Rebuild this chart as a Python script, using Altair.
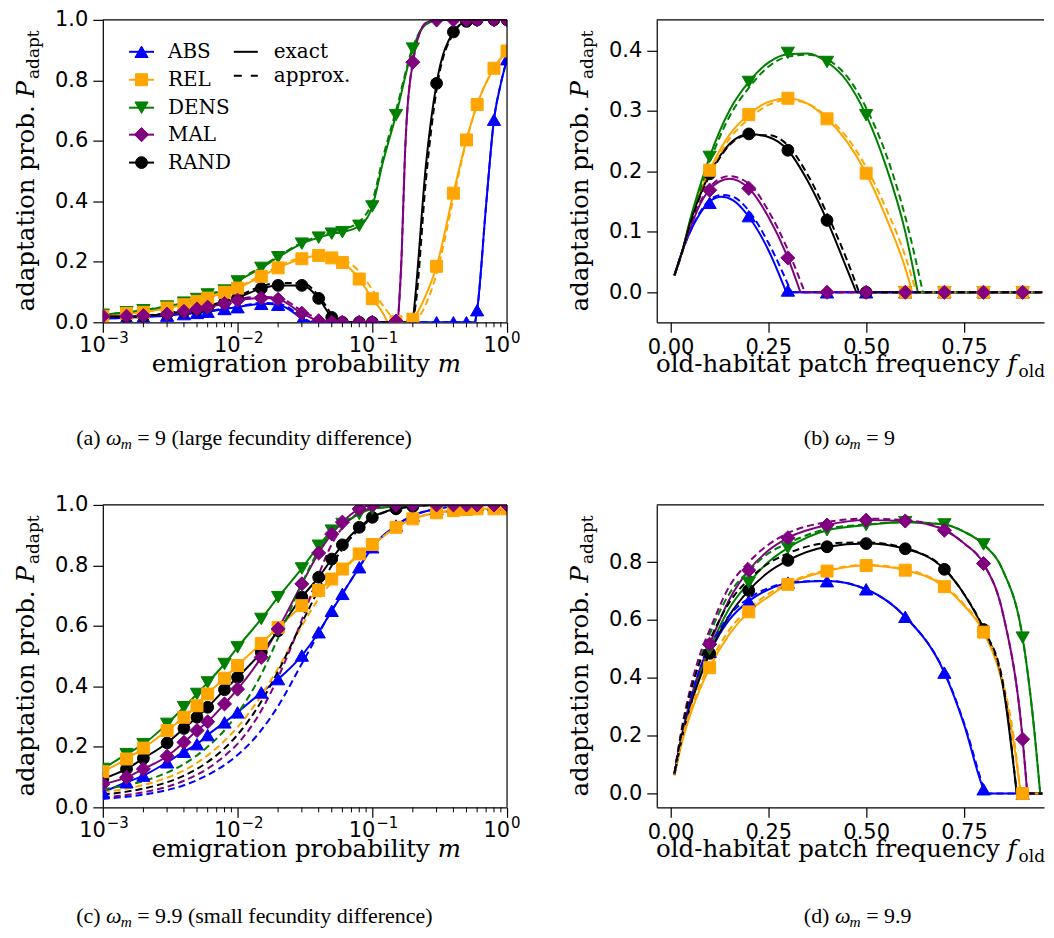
import altair as alt
import pandas as pd

NAMES = ["ABS", "REL", "DENS", "MAL", "RAND"]
COLORS = ["#0000ff", "#ffa500", "#008000", "#800080", "#000000"]
SHAPES = ["triangle-up", "square", "triangle-down", "diamond", "circle"]
SIZES = [175, 144, 175, 200, 140]
POINT_ORDER = ["ABS", "RAND", "DENS", "REL", "MAL"]

M_SIM = [0.001, 0.0015, 0.002, 0.003, 0.004, 0.005, 0.006, 0.008, 0.01, 0.015, 0.02, 0.03,
         0.04, 0.05, 0.06, 0.08, 0.1, 0.15, 0.2, 0.3, 0.4, 0.5, 0.6, 0.8, 1.0]
F_SIM = [0.1, 0.2, 0.3, 0.4, 0.5, 0.6, 0.7, 0.8, 0.9]
M_TICKS = [0.001, 0.01, 0.1, 1.0]
M_TICK_EXP = ["−3", "−2", "−1", "0"]
M_MINOR = [0.002, 0.003, 0.004, 0.005, 0.006, 0.007, 0.008, 0.009,
           0.02, 0.03, 0.04, 0.05, 0.06, 0.07, 0.08, 0.09,
           0.2, 0.3, 0.4, 0.5, 0.6, 0.7, 0.8, 0.9]

# ---------------- panel (a): omega_m = 9, vs m ----------------
A_SIM_ABS = [0.012, 0.015, 0.018, 0.022, 0.027, 0.031, 0.035, 0.044, 0.050, 0.061, 0.058, 0.008, 0.0,
             0.0, 0.0, 0.0, 0.0, 0.0, 0.0, 0.0, 0.0, 0.0, 0.04, 0.67, 0.87]
A_SIM_REL = [0.020, 0.029, 0.033, 0.047, 0.058, 0.069, 0.080, 0.099, 0.113, 0.152, 0.180, 0.210, 0.221,
             0.213, 0.198, 0.143, 0.078, 0.002, 0.010, 0.185, 0.427, 0.603, 0.720, 0.840, 0.897]
A_SIM_DENS = [0.025, 0.033, 0.040, 0.052, 0.065, 0.077, 0.092, 0.105, 0.135, 0.180, 0.215, 0.260, 0.280,
              0.293, 0.298, 0.319, 0.383, 0.685, 0.905, 0.995, 1.0, 1.0, 1.0, 1.0, 1.0]
A_SIM_MAL = [0.020, 0.020, 0.022, 0.027, 0.036, 0.044, 0.050, 0.062, 0.073, 0.080, 0.076, 0.030, 0.005,
             0.0, 0.0, 0.0, 0.0, 0.004, 0.860, 1.0, 1.0, 1.0, 1.0, 1.0, 1.0]
A_SIM_RAND = [0.018, 0.018, 0.020, 0.028, 0.036, 0.043, 0.050, 0.065, 0.080, 0.112, 0.122, 0.122, 0.079,
              0.016, 0.0, 0.0, 0.0, 0.0, 0.0, 0.790, 0.960, 0.995, 1.0, 1.0, 1.0]

A_ABS_X = [0.001, 0.0015, 0.002, 0.003, 0.004, 0.005, 0.006, 0.008, 0.01, 0.015, 0.02, 0.025, 0.03,
           0.035, 0.1, 0.58, 0.6, 0.7, 0.8, 0.9, 1.0]
A_ABS_EX = [0.012, 0.015, 0.018, 0.022, 0.027, 0.031, 0.035, 0.044, 0.050, 0.061, 0.058, 0.038, 0.012,
            0.0, 0.0, 0.0, 0.04, 0.39, 0.67, 0.79, 0.87]
A_ABS_AP = [0.012, 0.015, 0.018, 0.023, 0.028, 0.032, 0.036, 0.046, 0.052, 0.064, 0.062, 0.043, 0.018,
            0.0, 0.0, 0.0, 0.04, 0.39, 0.67, 0.79, 0.87]
A_REL_X = [0.001, 0.0015, 0.002, 0.003, 0.004, 0.005, 0.006, 0.008, 0.01, 0.015, 0.02, 0.03, 0.04, 0.05,
           0.06, 0.08, 0.1, 0.12, 0.13, 0.19, 0.2, 0.25, 0.3, 0.4, 0.5, 0.6, 0.8, 1.0]
A_REL_EX = [0.020, 0.029, 0.033, 0.047, 0.058, 0.069, 0.080, 0.099, 0.113, 0.152, 0.180, 0.210, 0.221,
            0.213, 0.198, 0.143, 0.078, 0.030, 0.0, 0.0, 0.010, 0.090, 0.185, 0.427, 0.603, 0.720, 0.840, 0.897]
A_REL_AX = [0.001, 0.002, 0.003, 0.005, 0.008, 0.01, 0.015, 0.02, 0.03, 0.04, 0.05, 0.06, 0.08, 0.1,
            0.12, 0.14, 0.16, 0.2, 0.21, 0.25, 0.3, 0.4, 0.5, 0.6, 0.8, 1.0]
A_REL_AP = [0.020, 0.034, 0.048, 0.071, 0.101, 0.116, 0.156, 0.185, 0.215, 0.227, 0.222, 0.210, 0.168,
            0.108, 0.055, 0.018, 0.0, 0.0, 0.005, 0.060, 0.160, 0.410, 0.600, 0.720, 0.840, 0.897]
A_DENS_X = [0.001, 0.0015, 0.002, 0.003, 0.004, 0.005, 0.006, 0.008, 0.01, 0.015, 0.02, 0.03, 0.04,
            0.05, 0.06, 0.08, 0.1, 0.12, 0.15, 0.2, 0.25, 0.3, 0.4, 1.0]
A_DENS_EX = [0.025, 0.033, 0.040, 0.052, 0.065, 0.077, 0.092, 0.105, 0.135, 0.180, 0.215, 0.260, 0.280,
             0.293, 0.298, 0.319, 0.383, 0.530, 0.685, 0.905, 0.985, 0.998, 1.0, 1.0]
A_DENS_AP = [0.025, 0.033, 0.041, 0.053, 0.066, 0.079, 0.093, 0.108, 0.138, 0.183, 0.218, 0.263, 0.285,
             0.298, 0.307, 0.333, 0.400, 0.545, 0.700, 0.910, 0.987, 0.998, 1.0, 1.0]
A_MAL_X = [0.001, 0.0015, 0.002, 0.003, 0.004, 0.005, 0.006, 0.008, 0.01, 0.015, 0.02, 0.03, 0.04,
           0.045, 0.155, 0.165, 0.175, 0.2, 0.25, 0.3, 1.0]
A_MAL_EX = [0.020, 0.020, 0.022, 0.027, 0.036, 0.044, 0.050, 0.062, 0.073, 0.080, 0.076, 0.030, 0.005,
            0.0, 0.0, 0.22, 0.56, 0.86, 0.99, 1.0, 1.0]
A_MAL_AP = [0.020, 0.020, 0.023, 0.028, 0.037, 0.045, 0.052, 0.064, 0.076, 0.084, 0.082, 0.038, 0.010,
            0.0, 0.0, 0.22, 0.56, 0.86, 0.99, 1.0, 1.0]
A_RAND_X = [0.001, 0.0015, 0.002, 0.003, 0.004, 0.005, 0.006, 0.008, 0.01, 0.015, 0.02, 0.03, 0.04,
            0.05, 0.055, 0.2, 0.21, 0.25, 0.3, 0.4, 0.5, 0.6, 1.0]
A_RAND_EX = [0.018, 0.018, 0.020, 0.028, 0.036, 0.043, 0.050, 0.065, 0.080, 0.112, 0.122, 0.122, 0.079,
             0.016, 0.0, 0.0, 0.10, 0.52, 0.79, 0.96, 0.995, 1.0, 1.0]
A_RAND_AP = [0.018, 0.019, 0.021, 0.030, 0.038, 0.046, 0.054, 0.070, 0.086, 0.119, 0.130, 0.130, 0.088,
             0.025, 0.0, 0.0, 0.06, 0.47, 0.77, 0.955, 0.995, 1.0, 1.0]

# ---------------- panel (b): omega_m = 9, vs f_old ----------------
B_SIM_ABS = [0.148, 0.126, 0.003, 0.0, 0.0, 0.0, 0.0, 0.0, 0.0]
B_SIM_REL = [0.202, 0.294, 0.321, 0.287, 0.197, 0.0, 0.0, 0.0, 0.0]
B_SIM_DENS = [0.224, 0.348, 0.396, 0.381, 0.293, 0.0, 0.0, 0.0, 0.0]
B_SIM_MAL = [0.169, 0.172, 0.057, 0.0, 0.0, 0.0, 0.0, 0.0, 0.0]
B_SIM_RAND = [0.196, 0.262, 0.235, 0.119, 0.0, 0.0, 0.0, 0.0, 0.0]

B_ABS_X = [0.01, 0.03, 0.05, 0.075, 0.1, 0.13, 0.16, 0.2, 0.25, 0.296, 0.95]
B_ABS_EX = [0.028, 0.068, 0.1, 0.13, 0.15, 0.158, 0.152, 0.125, 0.07, 0.0, 0.0]
B_ABS_AX = [0.01, 0.03, 0.05, 0.075, 0.1, 0.13, 0.16, 0.2, 0.25, 0.309, 0.95]
B_ABS_AP = [0.028, 0.068, 0.1, 0.132, 0.153, 0.161, 0.158, 0.135, 0.082, 0.0, 0.0]
B_REL_X = [0.01, 0.03, 0.05, 0.075, 0.1, 0.15, 0.2, 0.25, 0.3, 0.35, 0.4, 0.45, 0.5, 0.55, 0.6, 0.618, 0.95]
B_REL_EX = [0.028, 0.068, 0.118, 0.165, 0.202, 0.26, 0.294, 0.315, 0.321, 0.312, 0.287, 0.25, 0.197,
            0.125, 0.04, 0.0, 0.0]
B_REL_AX = [0.01, 0.03, 0.05, 0.075, 0.1, 0.15, 0.2, 0.25, 0.3, 0.35, 0.4, 0.45, 0.5, 0.55, 0.6, 0.628, 0.95]
B_REL_AP = [0.028, 0.066, 0.112, 0.158, 0.195, 0.253, 0.287, 0.31, 0.318, 0.312, 0.29, 0.257, 0.207,
            0.14, 0.06, 0.0, 0.0]
B_DENS_X = [0.01, 0.03, 0.05, 0.075, 0.1, 0.15, 0.2, 0.25, 0.3, 0.35, 0.4, 0.45, 0.5, 0.55, 0.6, 0.632, 0.95]
B_DENS_EX = [0.028, 0.068, 0.12, 0.175, 0.224, 0.3, 0.348, 0.38, 0.394, 0.395, 0.381, 0.35, 0.293,
             0.21, 0.1, 0.0, 0.0]
B_DENS_AX = [0.01, 0.03, 0.05, 0.075, 0.1, 0.15, 0.2, 0.25, 0.3, 0.35, 0.4, 0.45, 0.5, 0.55, 0.6, 0.645, 0.95]
B_DENS_AP = [0.028, 0.066, 0.115, 0.168, 0.215, 0.29, 0.338, 0.373, 0.39, 0.393, 0.385, 0.358, 0.305,
             0.23, 0.125, 0.0, 0.0]
B_MAL_X = [0.01, 0.03, 0.05, 0.075, 0.1, 0.15, 0.2, 0.25, 0.3, 0.332, 0.95]
B_MAL_EX = [0.028, 0.068, 0.105, 0.145, 0.17, 0.188, 0.172, 0.125, 0.057, 0.0, 0.0]
B_MAL_AX = [0.01, 0.03, 0.05, 0.075, 0.1, 0.15, 0.2, 0.25, 0.3, 0.343, 0.95]
B_MAL_AP = [0.028, 0.068, 0.107, 0.148, 0.174, 0.192, 0.18, 0.135, 0.07, 0.0, 0.0]
B_RAND_X = [0.01, 0.03, 0.05, 0.075, 0.1, 0.15, 0.2, 0.25, 0.3, 0.35, 0.4, 0.45, 0.475, 0.95]
B_RAND_EX = [0.028, 0.068, 0.115, 0.16, 0.196, 0.245, 0.262, 0.257, 0.235, 0.185, 0.119, 0.04, 0.0, 0.0]
B_RAND_AX = [0.01, 0.03, 0.05, 0.075, 0.1, 0.15, 0.2, 0.25, 0.3, 0.35, 0.4, 0.45, 0.482, 0.95]
B_RAND_AP = [0.028, 0.068, 0.113, 0.158, 0.193, 0.243, 0.26, 0.26, 0.243, 0.195, 0.13, 0.055, 0.0, 0.0]

# ---------------- panel (c): omega_m = 9.9, vs m ----------------
C_SIM_ABS = [0.050, 0.083, 0.105, 0.149, 0.184, 0.209, 0.239, 0.281, 0.314, 0.380, 0.424, 0.502, 0.579,
             0.650, 0.706, 0.794, 0.860, 0.932, 0.965, 0.987, 0.995, 1.0, 1.0, 1.0, 1.0]
C_SIM_REL = [0.118, 0.160, 0.196, 0.254, 0.298, 0.336, 0.375, 0.427, 0.469, 0.542, 0.595, 0.667, 0.717,
             0.755, 0.788, 0.838, 0.869, 0.926, 0.954, 0.974, 0.981, 0.985, 0.987, 0.987, 0.987]
C_SIM_DENS = [0.127, 0.176, 0.209, 0.276, 0.331, 0.375, 0.413, 0.474, 0.529, 0.623, 0.695, 0.790, 0.865,
              0.915, 0.937, 0.970, 0.987, 0.995, 1.0, 1.0, 1.0, 1.0, 1.0, 1.0, 1.0]
C_SIM_MAL = [0.077, 0.099, 0.127, 0.169, 0.215, 0.254, 0.283, 0.342, 0.391, 0.496, 0.590, 0.739, 0.841,
             0.904, 0.943, 0.987, 1.0, 1.0, 1.0, 1.0, 1.0, 1.0, 1.0, 1.0, 1.0]
C_SIM_RAND = [0.094, 0.127, 0.162, 0.213, 0.261, 0.298, 0.331, 0.389, 0.430, 0.513, 0.584, 0.695, 0.761,
              0.821, 0.868, 0.926, 0.959, 0.987, 0.995, 1.0, 1.0, 1.0, 1.0, 1.0, 1.0]

C_AP_X = [0.001, 0.0015, 0.002, 0.003, 0.004, 0.005, 0.006, 0.008, 0.01, 0.015, 0.02, 0.03, 0.04, 0.05,
          0.06, 0.08, 0.1, 0.15, 0.2, 0.3, 0.5, 1.0]
C_AP_ABS = [0.028, 0.035, 0.042, 0.057, 0.073, 0.090, 0.107, 0.140, 0.173, 0.255, 0.335, 0.475, 0.575,
            0.650, 0.706, 0.794, 0.860, 0.932, 0.965, 0.987, 0.998, 1.0]
C_AP_REL = [0.050, 0.062, 0.074, 0.098, 0.122, 0.147, 0.172, 0.220, 0.265, 0.370, 0.460, 0.600, 0.690,
            0.745, 0.782, 0.835, 0.868, 0.926, 0.954, 0.974, 0.985, 0.987]
C_AP_DENS = [0.060, 0.073, 0.087, 0.115, 0.143, 0.172, 0.200, 0.255, 0.310, 0.440, 0.560, 0.740, 0.850,
             0.910, 0.935, 0.970, 0.987, 0.995, 1.0, 1.0, 1.0, 1.0]
C_AP_MAL = [0.033, 0.041, 0.050, 0.068, 0.088, 0.108, 0.128, 0.170, 0.210, 0.320, 0.430, 0.620, 0.770,
            0.870, 0.925, 0.975, 0.990, 1.0, 1.0, 1.0, 1.0, 1.0]
C_AP_RAND = [0.042, 0.052, 0.062, 0.083, 0.105, 0.127, 0.150, 0.195, 0.240, 0.350, 0.450, 0.610, 0.720,
             0.800, 0.855, 0.920, 0.955, 0.987, 0.995, 1.0, 1.0, 1.0]

# ---------------- panel (d): omega_m = 9.9, vs f_old ----------------
D_SIM_ABS = [0.490, 0.665, 0.729, 0.734, 0.706, 0.611, 0.418, 0.015, 0.0]
D_SIM_REL = [0.435, 0.628, 0.723, 0.769, 0.788, 0.772, 0.715, 0.558, 0.0]
D_SIM_DENS = [0.500, 0.729, 0.849, 0.910, 0.928, 0.938, 0.930, 0.861, 0.539]
D_SIM_MAL = [0.516, 0.772, 0.884, 0.928, 0.945, 0.942, 0.910, 0.795, 0.188]
D_SIM_RAND = [0.485, 0.702, 0.806, 0.853, 0.864, 0.846, 0.775, 0.567, 0.0]

D_ABS_X = [0.01, 0.03, 0.05, 0.075, 0.1, 0.15, 0.2, 0.25, 0.3, 0.4, 0.5, 0.6, 0.7, 0.75, 0.8, 0.805, 0.95]
D_ABS_EX = [0.065, 0.2, 0.3, 0.41, 0.487, 0.6, 0.665, 0.705, 0.727, 0.735, 0.706, 0.611, 0.418, 0.24,
            0.015, 0.0, 0.0]
D_ABS_AP = [0.07, 0.215, 0.32, 0.43, 0.505, 0.615, 0.675, 0.71, 0.729, 0.735, 0.706, 0.611, 0.42, 0.245,
            0.02, 0.0, 0.0]
D_REL_X = [0.01, 0.03, 0.05, 0.075, 0.1, 0.15, 0.2, 0.25, 0.3, 0.4, 0.5, 0.6, 0.7, 0.75, 0.8, 0.85, 0.88,
           0.895, 0.95]
D_REL_EX = [0.062, 0.18, 0.27, 0.36, 0.435, 0.55, 0.628, 0.68, 0.723, 0.769, 0.788, 0.772, 0.715, 0.65,
            0.558, 0.37, 0.15, 0.0, 0.0]
D_REL_AP = [0.065, 0.19, 0.285, 0.375, 0.45, 0.565, 0.638, 0.69, 0.728, 0.772, 0.79, 0.775, 0.718, 0.655,
            0.565, 0.385, 0.17, 0.0, 0.0]
D_DENS_X = [0.01, 0.03, 0.05, 0.075, 0.1, 0.15, 0.2, 0.25, 0.3, 0.4, 0.5, 0.6, 0.7, 0.75, 0.8, 0.85, 0.9,
            0.925, 0.945, 0.95]
D_DENS_EX = [0.065, 0.2, 0.31, 0.415, 0.5, 0.64, 0.729, 0.8, 0.849, 0.91, 0.928, 0.938, 0.93, 0.905,
             0.861, 0.77, 0.539, 0.28, 0.0, 0.0]
D_DENS_AP = [0.07, 0.225, 0.35, 0.46, 0.55, 0.69, 0.77, 0.83, 0.865, 0.915, 0.93, 0.938, 0.93, 0.905,
             0.861, 0.77, 0.539, 0.28, 0.0, 0.0]
D_MAL_X = [0.01, 0.03, 0.05, 0.075, 0.1, 0.15, 0.2, 0.25, 0.3, 0.4, 0.5, 0.6, 0.7, 0.75, 0.8, 0.85, 0.9,
           0.912, 0.95]
D_MAL_EX = [0.065, 0.21, 0.32, 0.43, 0.516, 0.67, 0.772, 0.84, 0.884, 0.928, 0.945, 0.942, 0.91, 0.865,
            0.795, 0.62, 0.188, 0.0, 0.0]
D_MAL_AP = [0.07, 0.235, 0.36, 0.48, 0.565, 0.715, 0.8, 0.86, 0.9, 0.938, 0.95, 0.945, 0.912, 0.865,
            0.795, 0.62, 0.188, 0.0, 0.0]
D_RAND_X = [0.01, 0.03, 0.05, 0.075, 0.1, 0.15, 0.2, 0.25, 0.3, 0.4, 0.5, 0.6, 0.7, 0.75, 0.8, 0.85,
            0.885, 0.95]
D_RAND_EX = [0.065, 0.2, 0.3, 0.4, 0.485, 0.615, 0.702, 0.765, 0.806, 0.853, 0.864, 0.846, 0.775, 0.69,
             0.567, 0.37, 0.0, 0.0]
D_RAND_AP = [0.07, 0.225, 0.345, 0.455, 0.53, 0.66, 0.74, 0.795, 0.83, 0.865, 0.868, 0.848, 0.777, 0.69,
             0.57, 0.38, 0.0, 0.0]

# ---------------- helpers ----------------
CS = alt.Scale(domain=NAMES, range=COLORS)
ONE = pd.DataFrame({"k": [0]})
W, H = 405, 303
WB = 388
SERIF = "DejaVu Serif"
CAPFONT = "Liberation Serif"


def split_runs(ys):
    segs, cur, prev = [], [0], None
    for i in range(1, len(ys)):
        t = (ys[i - 1] == 0 and ys[i] == 0)
        if prev is None or t == prev:
            cur.append(i)
        else:
            segs.append(cur)
            cur = [i - 1, i]
        prev = t
    segs.append(cur)
    return segs


def line_df(curves, kind):
    rows = []
    for name, (xs, ys) in curves.items():
        for si, idx in enumerate(split_runs(ys)):
            for i in idx:
                rows.append({"series": name, "key": f"{name}-{kind}-{si}", "x": xs[i], "y": ys[i]})
    return pd.DataFrame(rows)


def txt(text, x, y, size, font=SERIF, align="left", baseline="alphabetic", angle=0, style="normal"):
    return alt.Chart(ONE).mark_text(
        text=text, font=font, fontSize=size, align=align, baseline=baseline,
        angle=angle, fontStyle=style, color="black"
    ).encode(x=alt.value(x), y=alt.value(y))


def rule(x, x2, y, y2=None, color="black", width=1.2, dash=None):
    kw = dict(color=color, strokeWidth=width)
    if dash:
        kw["strokeDash"] = dash
    enc = dict(x=alt.value(x), y=alt.value(y))
    if x2 is not None:
        enc["x2"] = alt.value(x2)
    if y2 is not None:
        enc["y2"] = alt.value(y2)
    return alt.Chart(ONE).mark_rule(**kw).encode(**enc)


def y_title():
    return [
        txt("adaptation prob.", -69, 85.6, 24.5, align="right", angle=270),
        txt("P", -69, 77.8, 24.5, align="left", angle=270, style="italic"),
        txt("adapt", -64, 59.3, 17, align="left", angle=270),
    ]


def caption(label, rest, x_omega, base):
    return [
        txt(label, x_omega - 5.5, base, 22, font=CAPFONT, align="right"),
        txt("ω", x_omega, base, 22, font=CAPFONT, style="italic"),
        txt("m", x_omega + 14.7, base + 4, 15.4, font=CAPFONT, style="italic"),
        txt(rest, x_omega + 31.3, base, 22, font=CAPFONT),
    ]


def panel(ex, ap, xgrid, sims, xscale, yscale, xaxis, yaxis, width, extras, logx=False):
    X = alt.X("x:Q", scale=xscale, axis=xaxis)
    Y = alt.Y("y:Q", scale=yscale, axis=yaxis)
    col = alt.Color("series:N", scale=CS, legend=None)
    layers = []
    if logx:
        layers.append(alt.Chart(pd.DataFrame({"x": M_MINOR})).mark_rule(color="black", strokeWidth=1)
                      .encode(x=X, y=alt.value(H), y2=alt.value(H + 5)))
        tdf = pd.DataFrame({"x": M_TICKS, "e": M_TICK_EXP})
        layers.append(alt.Chart(tdf).mark_text(text="10", font="DejaVu Sans", fontSize=21, align="right",
                                               baseline="alphabetic", dx=3, color="black")
                      .encode(x=X, y=alt.value(H + 30)))
        layers.append(alt.Chart(tdf).mark_text(font="DejaVu Sans", fontSize=15, align="left",
                                               baseline="alphabetic", dx=4, color="black")
                      .encode(x=X, y=alt.value(H + 21), text="e:N"))
    layers.append(alt.Chart(line_df(ex, "ex")).mark_line(strokeWidth=2, clip=True, interpolate="monotone")
                  .encode(x=X, y=Y, color=col, detail="key:N"))
    layers.append(alt.Chart(line_df(ap, "ap")).mark_line(strokeWidth=2, clip=True, interpolate="monotone",
                                                          strokeDash=[7, 4])
                  .encode(x=X, y=Y, color=col, detail="key:N"))
    for name in POINT_ORDER:
        i = NAMES.index(name)
        df = pd.DataFrame({"x": xgrid, "y": sims[name]})
        layers.append(alt.Chart(df).mark_point(shape=SHAPES[i], size=SIZES[i], filled=True, opacity=1,
                                               color=COLORS[i], stroke=COLORS[i], strokeWidth=1, clip=True)
                      .encode(x=X, y=Y))
    layers.append(rule(0, width, 0))
    layers += extras
    return alt.layer(*layers).properties(width=width, height=H)


x_log = alt.Scale(type="log", domain=[0.001, 1.0], nice=False)
x_log_axis = alt.Axis(values=M_TICKS, labels=False, title=None)
y_unit = alt.Scale(domain=[0.0, 1.0], nice=False, zero=False)
y_unit_axis = alt.Axis(values=[0.0, 0.2, 0.4, 0.6, 0.8, 1.0], format=".1f", title=None, labelPadding=5)
x_f = alt.Scale(domain=[-0.0352, -0.0352 + WB / 392.0], nice=False, zero=False)
x_f_axis = alt.Axis(values=[0.0, 0.25, 0.5, 0.75], format=".2f", title=None)

XT = H + 50


def m_title():
    return [txt("emigration probability", 327.7, XT, 24.5, align="right"),
            txt("m", 335.5, XT, 24.5, style="italic")]


def f_title():
    return [txt("old-habitat patch frequency", 343.6, XT, 24.5, align="right"),
            txt("f", 351.4, XT, 24.5, style="italic"),
            txt("old", 362.5, XT + 5, 17)]


# legend inside panel (a)
legend = []
for i, (name, ry) in enumerate(zip(NAMES, [32, 60, 88, 115, 143])):
    legend.append(rule(26.3, 51.3, ry, color=COLORS[i], width=2))
    legend.append(alt.Chart(ONE).mark_point(shape=SHAPES[i], size=SIZES[i], filled=True, opacity=1,
                                            color=COLORS[i], stroke=COLORS[i], strokeWidth=1)
                  .encode(x=alt.value(38.8), y=alt.value(ry)))
    legend.append(txt(name, 65.3, ry, 20, baseline="middle"))
legend.append(rule(131.3, 155.3, 32, width=2))
legend.append(txt("exact", 171.3, 32, 20, baseline="middle"))
legend.append(rule(131.3, 155.3, 56, width=2, dash=[8, 9]))
legend.append(txt("approx.", 171.3, 56, 20, baseline="middle"))

S = lambda a, b, c, d, e: dict(zip(NAMES, [a, b, c, d, e]))

pa = panel(
    S((A_ABS_X, A_ABS_EX), (A_REL_X, A_REL_EX), (A_DENS_X, A_DENS_EX), (A_MAL_X, A_MAL_EX), (A_RAND_X, A_RAND_EX)),
    S((A_ABS_X, A_ABS_AP), (A_REL_AX, A_REL_AP), (A_DENS_X, A_DENS_AP), (A_MAL_X, A_MAL_AP), (A_RAND_X, A_RAND_AP)),
    M_SIM, S(A_SIM_ABS, A_SIM_REL, A_SIM_DENS, A_SIM_MAL, A_SIM_RAND),
    x_log, y_unit, x_log_axis, y_unit_axis, W,
    [rule(W, None, 0, H)] + legend + m_title() + y_title()
    + caption("(a)", "= 9 (large fecundity difference)", 3.2, H + 123),
    logx=True,
)

pb = panel(
    S((B_ABS_X, B_ABS_EX), (B_REL_X, B_REL_EX), (B_DENS_X, B_DENS_EX), (B_MAL_X, B_MAL_EX), (B_RAND_X, B_RAND_EX)),
    S((B_ABS_AX, B_ABS_AP), (B_REL_AX, B_REL_AP), (B_DENS_AX, B_DENS_AP), (B_MAL_AX, B_MAL_AP), (B_RAND_AX, B_RAND_AP)),
    F_SIM, S(B_SIM_ABS, B_SIM_REL, B_SIM_DENS, B_SIM_MAL, B_SIM_RAND),
    x_f, alt.Scale(domain=[-0.0496, 0.4507], nice=False, zero=False), x_f_axis,
    alt.Axis(values=[0.0, 0.1, 0.2, 0.3, 0.4], format=".1f", title=None, labelPadding=5), WB,
    f_title() + y_title() + caption("(b)", "= 9", 178.5, H + 123),
)

pc = panel(
    S((M_SIM, C_SIM_ABS), (M_SIM, C_SIM_REL), (M_SIM, C_SIM_DENS), (M_SIM, C_SIM_MAL), (M_SIM, C_SIM_RAND)),
    S((C_AP_X, C_AP_ABS), (C_AP_X, C_AP_REL), (C_AP_X, C_AP_DENS), (C_AP_X, C_AP_MAL), (C_AP_X, C_AP_RAND)),
    M_SIM, S(C_SIM_ABS, C_SIM_REL, C_SIM_DENS, C_SIM_MAL, C_SIM_RAND),
    x_log, y_unit, x_log_axis, y_unit_axis, W,
    [rule(W, None, 0, H)] + m_title() + y_title()
    + caption("(c)", "= 9.9 (small fecundity difference)", 3.2, H + 116),
    logx=True,
)

pd_ = panel(
    S((D_ABS_X, D_ABS_EX), (D_REL_X, D_REL_EX), (D_DENS_X, D_DENS_EX), (D_MAL_X, D_MAL_EX), (D_RAND_X, D_RAND_EX)),
    S((D_ABS_X, D_ABS_AP), (D_REL_X, D_REL_AP), (D_DENS_X, D_DENS_AP), (D_MAL_X, D_MAL_AP), (D_RAND_X, D_RAND_AP)),
    F_SIM, S(D_SIM_ABS, D_SIM_REL, D_SIM_DENS, D_SIM_MAL, D_SIM_RAND),
    x_f, alt.Scale(domain=[-0.0475, 0.9975], nice=False, zero=False), x_f_axis,
    alt.Axis(values=[0.0, 0.2, 0.4, 0.6, 0.8], format=".1f", title=None, labelPadding=5), WB,
    f_title() + y_title() + caption("(d)", "= 9.9", 178.5, H + 116),
)

chart = alt.concat(
    pa, pb, pc, pd_, columns=2, spacing={"row": 183, "column": 150}, bounds="flush"
).properties(
    padding={"left": 5, "top": 0, "right": 0, "bottom": 0}
).configure_view(stroke=None).configure_axis(
    labelFont="DejaVu Sans", labelFontSize=21, labelColor="black", tickColor="black",
    domainColor="black", tickSize=10, tickWidth=1.2, domainWidth=1.2, labelPadding=4,
    grid=False, labelFlush=False
)

chart.save("out.html", embed_options={"renderer": "svg", "actions": False})
